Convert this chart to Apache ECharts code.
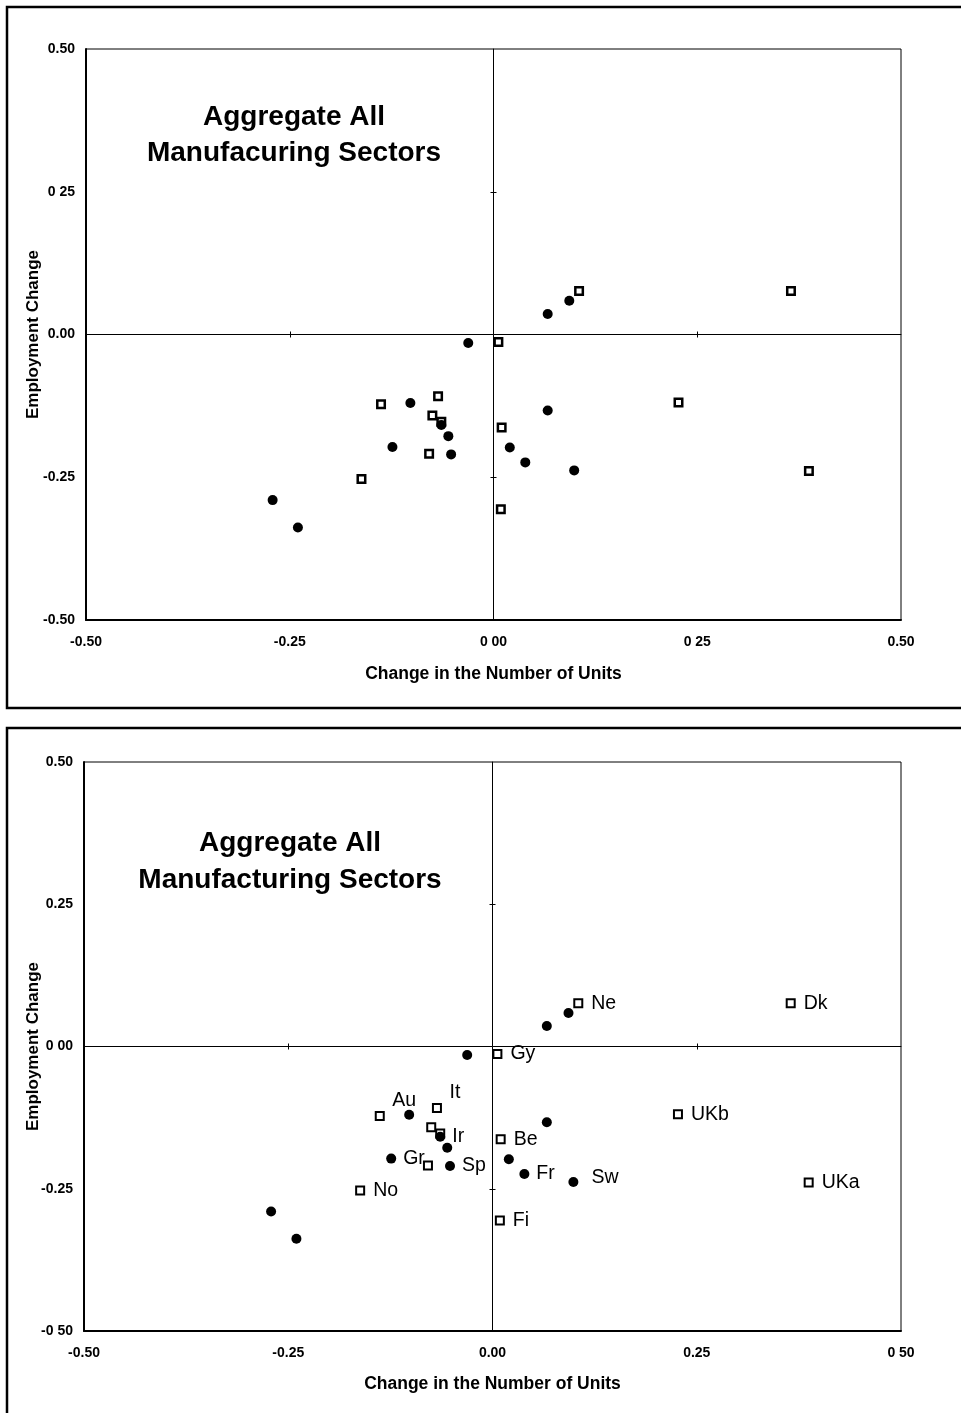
<!DOCTYPE html>
<html>
<head>
<meta charset="utf-8">
<script src="https://cdn.jsdelivr.net/npm/echarts@6/dist/echarts.min.js"></script>
<style>
  html, body { margin: 0; padding: 0; background: #fff; }
  #chart { width: 961px; height: 1413px; }
</style>
</head>
<body>
<div id="chart"></div>
<script>
// Countries plotted as filled circles: change in number of units vs employment change
const circleX = [-0.031, 0.0665, 0.093, -0.102, -0.064, -0.0554, -0.124, -0.052, -0.271, -0.240, 0.0665, 0.020, 0.039, 0.099];
const circleY = [-0.015, 0.036, 0.059, -0.120, -0.1585, -0.178, -0.197, -0.210, -0.290, -0.338, -0.133, -0.198, -0.224, -0.238];
const circleNames = ['', '', '', 'Au', 'Ir', '', 'Gr', 'Sp', '', '', '', '', 'Fr', 'Sw'];

// Countries plotted as open squares
const squareX = [0.105, 0.365, 0.006, -0.138, -0.068, -0.075, -0.064, -0.079, -0.162, 0.227, 0.010, 0.387, 0.009];
const squareY = [0.076, 0.076, -0.013, -0.122, -0.108, -0.142, -0.153, -0.209, -0.253, -0.119, -0.163, -0.239, -0.306];
const squareNames = ['Ne', 'Dk', 'Gy', '', 'It', '', '', '', 'No', 'UKb', 'Be', 'UKa', 'Fi'];

// Tick labels, listed from the axis minimum upward
const topXTicks = ['-0.50', '-0.25', '0 00', '0 25', '0.50'];
const topYTicks = ['-0.50', '-0.25', '0.00', '0 25', '0.50'];
const bottomXTicks = ['-0.50', '-0.25', '0.00', '0.25', '0 50'];
const bottomYTicks = ['-0 50', '-0.25', '0 00', '0.25', '0.50'];

const panelTitles = ['Aggregate All\nManufacuring Sectors', 'Aggregate All\nManufacturing Sectors'];
const xAxisTitle = 'Change in the Number of Units';
const yAxisTitle = 'Employment Change';

const AXIS_MIN = -0.5, AXIS_MAX = 0.5, AXIS_STEP = 0.25;
const FONT = '"Liberation Sans", Arial, Helvetica, sans-serif';

// Custom placement for labels that do not sit to the right of their marker
const labelPlacement = {
  Au: { position: 'inside', offset: [-5, -14] },
  It: { position: 'inside', offset: [18, -15] },
  Sw: { position: 'right', distance: 13, offset: [0, -4] }
};

function tickFormatter(list) {
  return function (v) {
    const i = Math.round((v - AXIS_MIN) / AXIS_STEP);
    return list[i] !== undefined ? list[i] : '';
  };
}

function buildAxes(p, xTicks, yTicks, gaps) {
  const base = { type: 'value', gridIndex: p, min: AXIS_MIN, max: AXIS_MAX, interval: AXIS_STEP, splitLine: { show: false } };
  const mainIdx = 3 * p;
  const x = [
    Object.assign({}, base, {
      position: 'bottom',
      axisLine: { show: true, onZero: false, lineStyle: { color: '#000', width: 2 } },
      axisTick: { show: false },
      axisLabel: { margin: 15, color: '#000', fontSize: 14, fontWeight: 'bold', fontFamily: FONT, formatter: tickFormatter(xTicks) },
      name: xAxisTitle, nameLocation: 'middle', nameGap: gaps.x, nameMoveOverlap: false,
      nameTextStyle: { color: '#000', fontSize: 17.5, fontWeight: 'bold', fontFamily: FONT }
    }),
    Object.assign({}, base, {
      position: 'bottom',
      axisLine: { show: true, onZero: true, onZeroAxisIndex: mainIdx, lineStyle: { color: '#000', width: 1 } },
      axisTick: { show: true, inside: false, length: 3, customValues: [-0.25, 0.25], lineStyle: { color: '#000', width: 1 } },
      axisLabel: { show: false }
    }),
    Object.assign({}, base, {
      position: 'bottom',
      axisLine: { show: false, onZero: true, onZeroAxisIndex: mainIdx },
      axisTick: { show: true, inside: true, length: 3, customValues: [-0.25, 0.25], lineStyle: { color: '#000', width: 1 } },
      axisLabel: { show: false }
    })
  ];
  const y = [
    Object.assign({}, base, {
      position: 'left',
      axisLine: { show: true, onZero: false, lineStyle: { color: '#000', width: 2 } },
      axisTick: { show: false },
      axisLabel: { margin: 11, color: '#000', fontSize: 14, fontWeight: 'bold', fontFamily: FONT, formatter: tickFormatter(yTicks) },
      name: yAxisTitle, nameLocation: 'middle', nameGap: gaps.y, nameRotate: 90, nameMoveOverlap: false,
      nameTextStyle: { color: '#000', fontSize: 17, fontWeight: 'bold', fontFamily: FONT }
    }),
    Object.assign({}, base, {
      position: 'left',
      axisLine: { show: true, onZero: true, onZeroAxisIndex: mainIdx, lineStyle: { color: '#000', width: 1 } },
      axisTick: { show: true, inside: false, length: 3, customValues: [-0.25, 0.25], lineStyle: { color: '#000', width: 1 } },
      axisLabel: { show: false }
    }),
    Object.assign({}, base, {
      position: 'left',
      axisLine: { show: false, onZero: true, onZeroAxisIndex: mainIdx },
      axisTick: { show: true, inside: true, length: 3, customValues: [-0.25, 0.25], lineStyle: { color: '#000', width: 1 } },
      axisLabel: { show: false }
    })
  ];
  return { x, y };
}

function points(xs, ys, names, withLabels) {
  return xs.map(function (xv, i) {
    const item = { value: [xv, ys[i]], name: names[i] };
    if (withLabels && labelPlacement[names[i]]) {
      item.label = Object.assign({}, labelPlacement[names[i]]);
    }
    return item;
  });
}

function buildSeries(p, withLabels, squareStyle) {
  const idx = 3 * p;
  const labelBase = {
    show: withLabels, color: '#000', fontSize: 19.5, fontFamily: FONT,
    formatter: function (prm) { return prm.name; }
  };
  return [
    {
      type: 'scatter', xAxisIndex: idx, yAxisIndex: idx,
      symbol: 'rect', symbolSize: squareStyle.size,
      itemStyle: { color: '#fff', borderColor: '#000', borderWidth: squareStyle.border, opacity: 1 },
      label: Object.assign({ position: 'right', distance: 8 }, labelBase),
      emphasis: { disabled: true },
      data: points(squareX, squareY, squareNames, withLabels)
    },
    {
      type: 'scatter', xAxisIndex: idx, yAxisIndex: idx,
      symbol: 'circle', symbolSize: 10,
      itemStyle: { color: '#000', opacity: 1 },
      label: Object.assign({ position: 'right', distance: 7 }, labelBase),
      emphasis: { disabled: true },
      data: points(circleX, circleY, circleNames, withLabels)
    }
  ];
}

const topAxes = buildAxes(0, topXTicks, topYTicks, { x: 45, y: 44 });
const bottomAxes = buildAxes(1, bottomXTicks, bottomYTicks, { x: 44, y: 42 });

const titleStyle = {
  fontSize: 28, fontWeight: 'bold', fontFamily: FONT, fill: '#000',
  align: 'center', verticalAlign: 'top'
};

const option = {
  backgroundColor: '#fff',
  animation: false,
  textStyle: { fontFamily: FONT },
  grid: [
    { left: 86, right: 60, top: 49, bottom: 793, show: true, borderColor: '#000', borderWidth: 1, backgroundColor: 'transparent' },
    { left: 84, right: 60, top: 762, bottom: 82, show: true, borderColor: '#000', borderWidth: 1, backgroundColor: 'transparent' }
  ],
  xAxis: topAxes.x.concat(bottomAxes.x),
  yAxis: topAxes.y.concat(bottomAxes.y),
  series: buildSeries(0, false, { size: 7.5, border: 2.5 }).concat(buildSeries(1, true, { size: 8, border: 2 })),
  graphic: [
    { type: 'rect', silent: true, z: -1, shape: { x: 7, y: 7, width: 975, height: 701 }, style: { fill: 'none', stroke: '#000', lineWidth: 2.5 } },
    { type: 'rect', silent: true, z: -1, shape: { x: 7, y: 728, width: 975, height: 720 }, style: { fill: 'none', stroke: '#000', lineWidth: 2.5 } },
    { type: 'text', silent: true, x: 294, y: 99, style: Object.assign({ text: panelTitles[0], lineHeight: 36 }, titleStyle) },
    { type: 'text', silent: true, x: 290, y: 825, style: Object.assign({ text: panelTitles[1], lineHeight: 37 }, titleStyle) }
  ]
};

const chart = echarts.init(document.getElementById('chart'), null, { renderer: 'canvas' });
chart.setOption(option);
</script>
</body>
</html>
